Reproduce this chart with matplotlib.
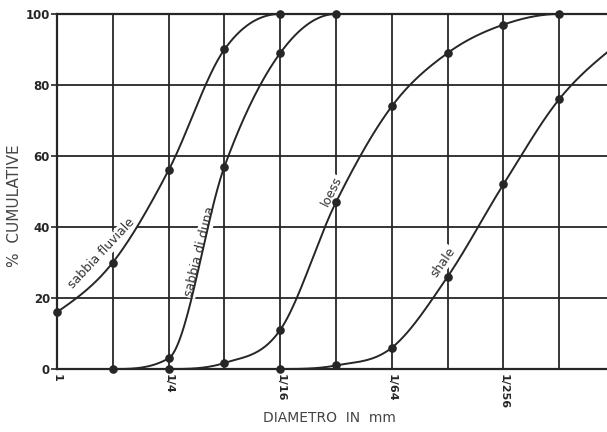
import numpy as np
import matplotlib
matplotlib.use("Agg")
import matplotlib.pyplot as plt

# grain size in phi units (each grid step halves the diameter), % cumulative
fluviale_phi = [0, 1, 2, 3, 4, 9.9]
fluviale_pct = [16, 30, 56, 90, 100, 100]

duna_phi = [1, 2, 3, 4, 5, 9.9]
duna_pct = [0, 3, 57, 89, 100, 100]

loess_phi = [2, 3, 4, 5, 6, 7, 8, 9, 9.9]
loess_pct = [0, 1.7, 11, 47, 74, 89, 97, 100, 100]

shale_phi = [4, 5, 6, 7, 8, 9, 10]
shale_pct = [0, 1, 6, 26, 52, 76, 91]

tick_phi = [0, 2, 4, 6, 8, 10]
tick_labels = ["1", "1/4", "1/16", "1/64", "1/256", "1/1024"]

ink = "#262626"


def smooth(x, y, xs):
    # cubic hermite through the points, slopes limited so it stays monotone
    x = np.asarray(x, float)
    y = np.asarray(y, float)
    h = np.diff(x)
    d = np.diff(y) / h
    m = np.zeros_like(y)
    for k in range(1, len(x) - 1):
        if d[k - 1] > 0 and d[k] > 0:
            m[k] = (d[k - 1] * h[k] + d[k] * h[k - 1]) / (h[k] + h[k - 1])
    m[0] = max(0, 1.5 * d[0] - 0.5 * m[1])
    m[-1] = max(0, 1.5 * d[-1] - 0.5 * m[-2])
    for k in range(len(d)):
        if d[k] == 0:
            m[k] = m[k + 1] = 0
            continue
        a, b = m[k] / d[k], m[k + 1] / d[k]
        r = a * a + b * b
        if r > 9:
            s = 3 / np.sqrt(r)
            m[k], m[k + 1] = s * a * d[k], s * b * d[k]
    i = np.clip(np.searchsorted(x, xs) - 1, 0, len(x) - 2)
    t = (xs - x[i]) / h[i]
    h00 = 2 * t**3 - 3 * t**2 + 1
    h10 = t**3 - 2 * t**2 + t
    h01 = -2 * t**3 + 3 * t**2
    h11 = t**3 - t**2
    return h00 * y[i] + h10 * h[i] * m[i] + h01 * y[i + 1] + h11 * h[i] * m[i + 1]


fig = plt.figure(figsize=(6.07, 4.32), dpi=100)
ax = fig.add_axes([57 / 607, 63 / 432, 550 / 607, 355 / 432])

ax.set_xlim(0, 550 / 55.8)
ax.set_ylim(0, 100)

for p in range(1, 10):
    ax.axvline(p, color=ink, lw=1.3, zorder=1)
for v in range(20, 100, 20):
    ax.axhline(v, color=ink, lw=1.3, zorder=1)

for s in ["left", "top", "bottom"]:
    ax.spines[s].set_color(ink)
    ax.spines[s].set_linewidth(1.6)
ax.spines["right"].set_visible(False)

curves = [
    (fluviale_phi, fluviale_pct),
    (duna_phi, duna_pct),
    (loess_phi, loess_pct),
    (shale_phi, shale_pct),
]
for px, py in curves:
    xs = np.linspace(px[0], px[-1], 500)
    ax.plot(xs, smooth(px, py, xs), color=ink, lw=1.4, zorder=3, clip_on=False)
    n = len(px) if px[-1] < 9.5 else len(px) - 1
    ax.plot(px[:n], py[:n], "o", color=ink, ms=5.2, zorder=4, clip_on=False)

lbl = dict(fontsize=9, color="#333333", ha="center", va="center",
           rotation_mode="anchor", zorder=2,
           bbox=dict(facecolor="white", edgecolor="none", pad=0.6))
ax.text(0.8, 32.5, "sabbia fluviale", rotation=47, **lbl)
ax.text(2.55, 33, "sabbia di duna", rotation=76, **lbl)
ax.text(4.93, 50, "loess", rotation=64, **lbl)
ax.text(6.92, 30, "shale", rotation=55, **lbl)

ax.set_yticks([0, 20, 40, 60, 80, 100])
ax.set_yticklabels(["0", "20", "40", "60", "80", "100"], fontsize=8.5,
                   fontweight="bold", color=ink)
ax.tick_params(axis="y", length=4, width=1.2, color=ink, pad=1)

ax.set_xticks([])
for p, t in zip(tick_phi, tick_labels):
    ax.text(p, -1.5, t, rotation=270, ha="center", va="top", fontsize=8,
            fontweight="bold", color=ink, clip_on=False)

ax.set_ylabel("%  CUMULATIVE", fontsize=11, color="#444444")
ax.yaxis.set_label_coords(-0.064, 0.46)
fig.text(0.543, 0.032, "DIAMETRO  IN  mm", fontsize=10, color="#444444",
         ha="center", va="center")

fig.savefig("out.png", dpi=100, facecolor="white")
